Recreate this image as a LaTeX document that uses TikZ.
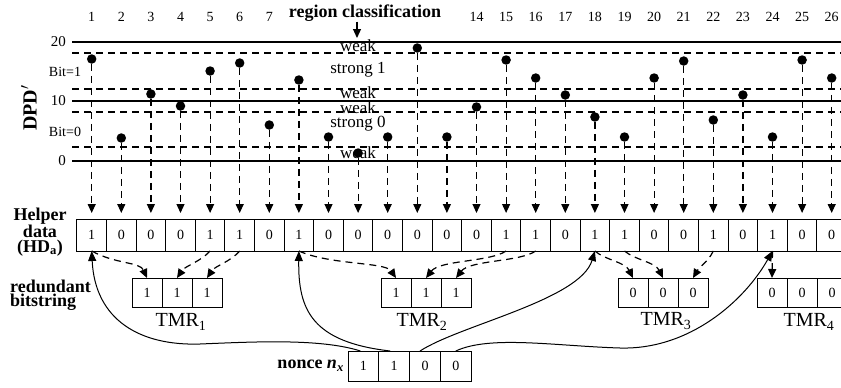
\documentclass[tikz,border=0pt]{standalone}
\usepackage{fontspec}
\setmainfont{Liberation Serif}
\usetikzlibrary{arrows.meta,calc}
\begin{document}
\begin{tikzpicture}[x=1pt,y=-1pt,
  solidline/.style={line width=1.8pt},
  dashline/.style={line width=1.2pt, dash pattern=on 7pt off 5pt},
  dotnode/.style={circle, fill=black, inner sep=0pt, minimum size=9.5pt},
  cell/.style={draw, line width=1pt, minimum width=29.6pt, minimum height=32pt, inner sep=0pt, outer sep=0pt, font=\fontsize{14}{14}\selectfont},
  tcell/.style={draw, line width=1pt, minimum width=30pt, minimum height=29pt, inner sep=0pt, outer sep=0pt, font=\fontsize{14}{14}\selectfont},
  ncell/.style={draw, line width=1pt, minimum width=30.8pt, minimum height=30pt, inner sep=0pt, outer sep=0pt, font=\fontsize{14}{14}\selectfont},
  numlab/.style={font=\fontsize{14}{14}\selectfont, inner sep=0pt},
  reglab/.style={font=\fontsize{17}{17}\selectfont, inner sep=0pt},
  ticklab/.style={font=\fontsize{15}{15}\selectfont, inner sep=0pt, anchor=east},
  boldlab/.style={font=\bfseries\fontsize{18}{14.5}\selectfont, inner sep=0pt},
  tmrlab/.style={font=\fontsize{20}{20}\selectfont, inner sep=0pt},
  downarrow/.style={dashline, -{Triangle[width=8pt,length=9pt]}, shorten >=6pt},
  tmrarrow/.style={dashline, -{Triangle[width=8pt,length=9pt]}},
  curvearrow/.style={line width=1pt, -{Triangle[width=8pt,length=10pt]}}
]
\useasboundingbox (0,0) rectangle (841,388);

% axis lines
\draw[solidline] (72,42) -- (845,42);
\draw[solidline] (72,101) -- (845,101);
\draw[solidline] (72,161) -- (845,161);
\draw[dashline] (72,53) -- (845,53);
\draw[dashline] (72,89) -- (845,89);
\draw[dashline] (72,112) -- (845,112);
\draw[dashline] (72,147) -- (845,147);

% tick and side labels
\node[ticklab] (t20) at (66,42) {20};
\node[ticklab] (t10) at (66,101) {10};
\node[ticklab] (t0) at (66,161) {0};
\node[numlab] (bit1) at (65,72) {Bit=1};
\node[numlab] (bit0) at (65,132) {Bit=0};
\node[rotate=90, font=\bfseries\fontsize{20}{20}\selectfont, inner sep=0pt] (dpd) at (29,108) {DPD$'$};

% region classification
\node[font=\bfseries\fontsize{18}{18}\selectfont, inner sep=0pt] (rc) at (365,13) {region classification};
\coordinate (rca) at (357,38);
\draw[line width=1.2pt, -{Triangle[width=8pt,length=9pt]}] (rc.south -| rca) -- (rca);
\node[reglab] (w1) at (358,46) {weak};
\node[reglab] (s1) at (358,70) {strong 1};
\node[reglab] (w2) at (358,93) {weak};
\node[reglab] (w3) at (358,108) {weak};
\node[reglab] (s0) at (358,124) {strong 0};
\node[reglab] (w4) at (358,153) {weak};

% columns: dots, helper data cells, arrows
\foreach \i/\y/\b in {1/59/1, 2/138/0, 3/94/0, 4/106/0, 5/71/1, 6/63/1, 7/125/0, 8/80/1, 9/137/0, 10/153/0, 11/137/0, 12/48/0, 13/137/0, 14/107/0, 15/60/1, 16/78/1, 17/95/0, 18/117/1, 19/137/1, 20/78/0, 21/61/0, 22/120/1, 23/95/0, 24/137/1, 25/60/0, 26/78/0} {
  \pgfmathsetmacro{\xx}{91.7+(\i-1)*29.6}
  \node[cell] (h\i) at (\xx,235) {\b};
  \node[dotnode] (d\i) at (\xx,\y) {};
  \draw[downarrow] (d\i) -- (h\i.north);
}
\foreach \i in {1,...,7,14,15,...,26} {
  \pgfmathsetmacro{\xx}{91.7+(\i-1)*29.6}
  \node[numlab] (c\i) at (\xx,17) {\i};
}

% left labels
\node[boldlab, align=center] (hl) at (40,232) {Helper\\data\\(HD\textsubscript{a})};
\node[boldlab, align=left, anchor=west] (rb) at (10,295) {redundant\\bitstring};

% TMR boxes
\node[tcell] (t11) at (147,292.5) {1};
\node[tcell] (t12) at (177,292.5) {1};
\node[tcell] (t13) at (207,292.5) {1};
\node[tcell] (t21) at (396,292.5) {1};
\node[tcell] (t22) at (426,292.5) {1};
\node[tcell] (t23) at (456,292.5) {1};
\node[tcell] (t31) at (633,292.5) {0};
\node[tcell] (t32) at (663,292.5) {0};
\node[tcell] (t33) at (693,292.5) {0};
\node[tcell] (t41) at (772,292.5) {0};
\node[tcell] (t42) at (802,292.5) {0};
\node[tcell] (t43) at (832,292.5) {0};
\node[tmrlab] (tl1) at (181,322) {TMR\textsubscript{1}};
\node[tmrlab] (tl2) at (422,322) {TMR\textsubscript{2}};
\node[tmrlab] (tl3) at (666,321) {TMR\textsubscript{3}};
\node[tmrlab] (tl4) at (809,322) {TMR\textsubscript{4}};

% nonce
\node[ncell] (n1) at (363.4,366) {1};
\node[ncell] (n2) at (394.2,366) {1};
\node[ncell] (n3) at (425,366) {0};
\node[ncell] (n4) at (455.8,366) {0};
\node[font=\bfseries\fontsize{18}{18}\selectfont, inner sep=0pt, anchor=east] (nl) at (344,366) {nonce \textit{n}\textsubscript{\textit{x}}};

% dashed arrows helper data -> TMR
\draw[tmrarrow] (h1.south) .. controls (115,264) and (140,262) .. (t11.north);
\draw[tmrarrow] (h5.south) .. controls (200,262) and (185,266) .. (t12.north);
\draw[tmrarrow] (h6.south) .. controls (230,262) and (215,266) .. (t13.north);
\draw[tmrarrow] (h8.south) .. controls (330,265) and (385,262) .. (t21.north);
\draw[tmrarrow] (h15.south) .. controls (490,262) and (440,260) .. (t22.north);
\draw[tmrarrow] (h16.south) .. controls (520,262) and (470,260) .. (t23.north);
\draw[tmrarrow] (h18.south) .. controls (605,260) and (625,262) .. (t31.north);
\draw[tmrarrow] (h19.south) .. controls (635,260) and (655,262) .. (t32.north);
\draw[tmrarrow] (h22.south) .. controls (708,262) and (700,266) .. (t33.north);
\draw[tmrarrow] (h24.south) -- (t41.north);

% solid arrows nonce -> helper data
\draw[curvearrow] ($(n1.north)+(-3,0)$) .. controls (320,338) and (250,342) .. (200,344)
   .. controls (140,346) and (95,320) .. (h1.south);
\draw[curvearrow] ($(n2.north)+(-4,0)$) .. controls (312,342) and (298,310) .. (h8.south);
\draw[curvearrow] ($(n3.north)+(-5,0)$) .. controls (460,325) and (580,300) .. (h18.south);
\draw[curvearrow] (n4.north) .. controls (490,335) and (555,346) .. (620,348)
   .. controls (690,350) and (745,300) .. (h24.south);
\end{tikzpicture}
\end{document}
